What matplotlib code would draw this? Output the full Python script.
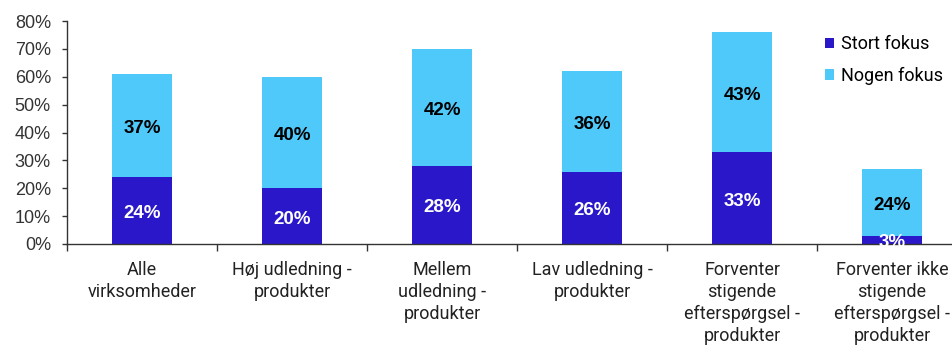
import matplotlib.pyplot as plt
from matplotlib.ticker import PercentFormatter, FixedLocator

categories = ['Alle\nvirksomheder', 'Høj udledning -\nprodukter', 'Mellem\nudledning -\nprodukter',
              'Lav udledning -\nprodukter', 'Forventer\nstigende\nefterspørgsel -\nprodukter',
              'Forventer ikke\nstigende\nefterspørgsel -\nprodukter']
stort_fokus = [24, 20, 28, 26, 33, 3]
nogen_fokus = [37, 40, 42, 36, 43, 24]

dark = '#2a17c9'
light = '#4fc9f9'
axis_col = '#333333'

plt.rcParams['font.family'] = ['Liberation Sans', 'DejaVu Sans']

fig = plt.figure(figsize=(9.52, 3.46), dpi=100)
ax = fig.add_axes([67/952, 102/346, 900/952, 223/346])

x = range(len(categories))
b1 = ax.bar(x, stort_fokus, width=0.4, color=dark, label='Stort fokus')
b2 = ax.bar(x, nogen_fokus, width=0.4, bottom=stort_fokus, color=light, label='Nogen fokus')

# value labels, nudged slightly below the segment centre
for i in x:
    ax.annotate(f'{stort_fokus[i]}%', (i, stort_fokus[i] / 2), xytext=(0, -3),
                textcoords='offset pixels', ha='center', va='center',
                color='white', fontsize=13.5, fontweight='bold', annotation_clip=False)
    ax.annotate(f'{nogen_fokus[i]}%', (i, stort_fokus[i] + nogen_fokus[i] / 2), xytext=(0, -3),
                textcoords='offset pixels', ha='center', va='center',
                color='black', fontsize=13.5, fontweight='bold')

ax.set_xlim(-0.5, len(categories) - 0.5)
ax.set_ylim(0, 80)
ax.set_yticks(range(0, 81, 10))
ax.yaxis.set_major_formatter(PercentFormatter(decimals=0))
ax.tick_params(axis='y', labelsize=13, colors=axis_col, length=3.6, width=1, pad=8)

ax.set_xticks(list(x))
ax.set_xticklabels(categories, fontsize=13, color='#222222', family=['Roboto', 'DejaVu Sans'],
                   linespacing=1.28)
ax.tick_params(axis='x', which='major', length=0, pad=12)
ax.xaxis.set_minor_locator(FixedLocator([i - 0.5 for i in range(len(categories) + 1)]))
ax.tick_params(axis='x', which='minor', length=5, width=1, color=axis_col)

for side in ['top', 'right']:
    ax.spines[side].set_visible(False)
for side in ['left', 'bottom']:
    ax.spines[side].set_color(axis_col)
    ax.spines[side].set_linewidth(1)

fig.legend(handles=[b1, b2], loc='upper left', bbox_to_anchor=(809/952, 1 - 19/346),
           frameon=False, handlelength=0.5, handleheight=0.5,
           handletextpad=0.35, labelspacing=0.75,
           prop={'family': ['Roboto', 'DejaVu Sans'], 'size': 13})

fig.savefig('out.png', dpi=100)
